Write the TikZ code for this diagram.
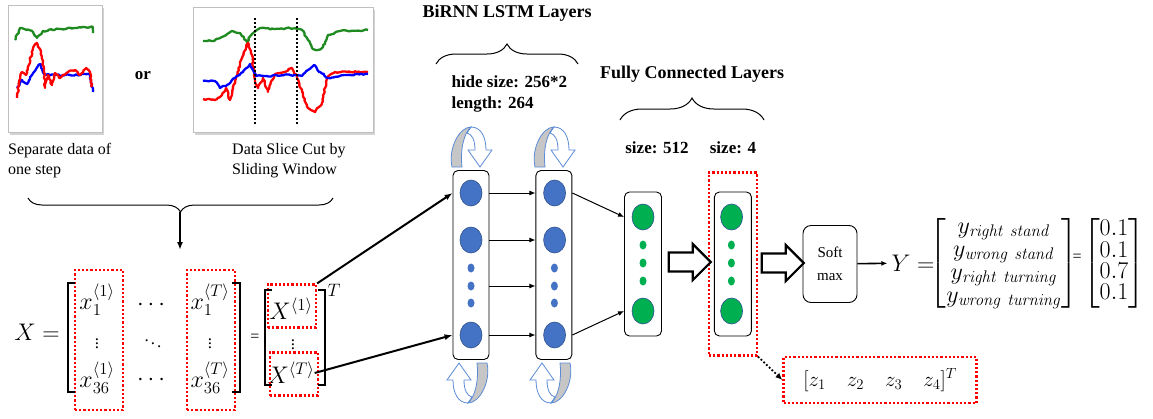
\RequirePackage{fix-cm}
\documentclass[tikz,border=0pt]{standalone}
\usepackage{amsmath}
\usepackage[no-math]{fontspec}
\setmainfont{Liberation Serif}
\usetikzlibrary{arrows.meta,positioning,shapes.geometric,shapes.arrows,shadows,fit,decorations.pathreplacing,decorations.pathmorphing}

\definecolor{nodeblue}{HTML}{4472C4}
\definecolor{edgeblue}{HTML}{2F528F}
\definecolor{nodegreen}{HTML}{00B050}
\definecolor{plotgreen}{HTML}{1F8A1F}
\definecolor{loopblue}{HTML}{5B8BD6}

\begin{document}
\begin{tikzpicture}[
    x=1pt,y=-1pt,
    every node/.style={font=\fontsize{16}{19}\selectfont},
    title/.style={font=\fontsize{18}{20}\selectfont\bfseries},
    lbl/.style={font=\fontsize{17}{20}\selectfont\bfseries},
    note/.style={font=\fontsize{16}{20}\selectfont,align=left,anchor=north west,inner sep=0pt},
    mathbig/.style={font=\fontsize{24}{28}\selectfont,inner sep=0pt},
    dotsm/.style={font=\fontsize{17}{18}\selectfont,inner sep=0pt},
    plotbox/.style={draw=gray!50,fill=white,drop shadow={opacity=0.35,shadow xshift=2pt,shadow yshift=-2pt}},
    trace/.style={line width=2.3pt,line join=round,decorate,decoration={random steps,segment length=2pt,amplitude=0.8pt}},
    window/.style={line width=2pt,dotted},
    brace/.style={decorate,decoration={brace,amplitude=#1},line width=1pt},
    brack/.style={line width=1.6pt},
    reddot/.style={draw=red,line width=2.2pt,dotted,inner sep=0pt},
    layer/.style={draw,rounded corners=5pt,minimum width=36pt,line width=0.9pt,inner sep=0pt},
    bignode/.style={ellipse,minimum width=22pt,minimum height=26pt,inner sep=0pt,draw=edgeblue,line width=0.6pt,fill=#1},
    dotnode/.style={ellipse,minimum width=7pt,minimum height=9pt,inner sep=0pt,fill=#1},
    hollow/.style={single arrow,draw,line width=2.2pt,fill=white,minimum height=42pt,minimum width=36pt,inner sep=7pt},
    smbox/.style={draw,rounded corners=8pt,minimum width=54pt,minimum height=77pt,align=center,line width=0.9pt,font=\fontsize{15}{23}\selectfont},
    arrow/.style={-{Latex[length=8pt,width=6pt]},line width=2pt},
    link/.style={-{Latex[length=6pt,width=5pt]},line width=1pt},
    dotarrow/.style={-{Latex[length=7pt,width=6pt]},line width=1.8pt,dotted},
    recur/.pic={
        \draw[draw=loopblue,line width=0.8pt,fill=white] (0,-20) .. controls (10,-20) and (15,-10) .. (15,3)
            -- (21,3) -- (9,20) -- (-3,3) -- (4,3) .. controls (4,-7) and (1,-13) .. (-4,-14) -- cycle;
        \draw[draw=loopblue,line width=0.8pt,fill=gray!45] (-19,20) .. controls (-23,2) and (-12,-20) .. (0,-20)
            .. controls (-7,-14) and (-11,2) .. (-9,20) -- cycle;
    }
]
\useasboundingbox (0,0) rectangle (1153,418);

% input data plots
\node[plotbox,minimum width=94pt,minimum height=127pt] (plotA) at (55,69) {};
\node[plotbox,minimum width=180pt,minimum height=125pt] (plotB) at (283,70) {};
\draw[trace,blue] (17,88) -- (22,80) -- (27,84) -- (34,72) -- (40,64) -- (44,74) -- (50,75) -- (70,75) -- (90,74) -- (93,92);
\draw[trace,plotgreen] (15,40) -- (20,28) -- (33,32) -- (37,38) -- (43,31) -- (60,29) -- (75,28) -- (93,27) -- (93,33);
\draw[trace,red] (17,98) -- (19,82) -- (22,72) -- (26,75) -- (30,60) -- (33,48) -- (37,43) -- (41,52) -- (44,70) -- (45,88)
    -- (48,75) -- (52,85) -- (55,73) -- (60,78) -- (68,72) -- (75,70) -- (80,75) -- (86,68) -- (90,72) -- (92,87);
\draw[trace,plotgreen] (203,41) -- (213,41) -- (222,37) -- (232,31) -- (240,33) -- (247,42) -- (252,34) -- (260,28) -- (275,29)
    -- (295,28) -- (302,30) -- (307,38) -- (312,48) -- (318,50) -- (323,47) -- (328,35) -- (340,31) -- (368,30);
\draw[trace,red] (203,99) -- (215,100) -- (222,95) -- (226,88) -- (230,100) -- (236,78) -- (242,58) -- (248,43) -- (252,55)
    -- (255,80) -- (258,88) -- (263,78) -- (268,92) -- (274,75) -- (284,72) -- (292,68) -- (297,78) -- (303,95) -- (308,108)
    -- (315,112) -- (322,103) -- (327,78) -- (335,72) -- (368,72);
\draw[trace,blue] (203,81) -- (215,81) -- (220,88) -- (227,85) -- (235,78) -- (243,72) -- (250,64) -- (256,76) -- (265,76)
    -- (290,75) -- (302,76) -- (308,70) -- (314,65) -- (320,72) -- (328,78) -- (345,75) -- (368,74);
\draw[window] (255,18) -- (255,125);
\draw[window] (297,18) -- (297,125);
\node[lbl] (or) at (143,76) {or};
\node[note] (capA) at (8,143) {Separate data of\\one step};
\node[note] (capB) at (232,143) {Data Slice Cut by\\Sliding Window};

% input matrix
\draw[brace=14pt] (333,198) -- (28,198);
\coordinate (tipX) at (180,212);
\coordinate (topX) at (180,250);
\draw[arrow] (tipX) -- (topX);
\node[mathbig] (Xeq) at (37,332) {$X =$};
\node[mathbig] (x11) at (97,300) {$x_1^{\langle 1\rangle}$};
\node[dotsm] (x21) at (97,341) {$\vdots$};
\node[mathbig] (x31) at (97,378) {$x_{36}^{\langle 1\rangle}$};
\node[mathbig] (x12) at (153,305) {$\cdots$};
\node[dotsm] (x22) at (153,341) {$\ddots$};
\node[mathbig] (x32) at (153,380) {$\cdots$};
\node[mathbig] (x13) at (210,300) {$x_1^{\langle T\rangle}$};
\node[dotsm] (x23) at (210,341) {$\vdots$};
\node[mathbig] (x33) at (210,378) {$x_{36}^{\langle T\rangle}$};
\node[reddot,minimum width=48pt,minimum height=140pt] (colX1) at (99,340) {};
\node[reddot,minimum width=48pt,minimum height=140pt] (colXT) at (211,340) {};
\draw[brack] (75,283) -| (68,392) -- (75,392);
\draw[brack] (232,283) -| (240,392) -- (232,392);
\node (eqX) at (255,338) {=};
\node[mathbig] (X1) at (291,309) {$X^{\langle 1\rangle}$};
\node[dotsm] (Xd) at (293,342) {$\vdots$};
\node[mathbig] (XT) at (291,373) {$X^{\langle T\rangle}$};
\node[reddot,minimum width=48pt,minimum height=43pt] (bx1) at (292,306) {};
\node[reddot,minimum width=48pt,minimum height=43pt] (bxT) at (294,374) {};
\draw[brack] (272,290) -| (265,385) -- (272,385);
\draw[brack] (318,290) -| (325,385) -- (318,385);
\node[font=\fontsize{18}{20}\selectfont] (supT) at (334,290) {$T$};

% BiRNN LSTM layers
\node[title] (birnn) at (507,13) {BiRNN LSTM Layers};
\draw[brace=20pt] (436,64) -- (578,64);
\node[lbl,anchor=west] (hide) at (448,82) {hide size: 256*2};
\node[lbl,anchor=west] (len) at (448,104) {length: 264};
\node[layer,minimum height=189pt] (colA) at (471,265) {};
\node[layer,minimum height=189pt,right=46pt of colA] (colB) {};
\node[bignode=nodeblue] (a1) at (471,193) {};
\node[bignode=nodeblue] (a2) at (471,240) {};
\node[dotnode=nodeblue] (da1) at (471,268) {};
\node[dotnode=nodeblue] (da2) at (471,286) {};
\node[dotnode=nodeblue] (da3) at (471,303) {};
\node[bignode=nodeblue] (a3) at (471,335) {};
\node[bignode=nodeblue,right=61pt of a1] (b1) {};
\node[bignode=nodeblue,right=61pt of a2] (b2) {};
\node[dotnode=nodeblue,right=76pt of da1] (db1) {};
\node[dotnode=nodeblue,right=76pt of da2] (db2) {};
\node[dotnode=nodeblue,right=76pt of da3] (db3) {};
\node[bignode=nodeblue,right=61pt of a3] (b3) {};
\pic at (471,147) {recur};
\pic at (554,147) {recur};
\pic[rotate=180] at (468,383) {recur};
\pic[rotate=180] at (551,383) {recur};
\draw[arrow] (bx1.north east) -- (a1 -| colA.west);
\draw[arrow] (XT.east) -- (a3 -| colA.west);
\draw[link] (a1 -| colA.east) -- (b1 -| colB.west);
\draw[link] (a2 -| colA.east) -- (b2 -| colB.west);
\draw[link] (da2 -| colA.east) -- (db2 -| colB.west);
\draw[link] (a3 -| colA.east) -- (b3 -| colB.west);

% fully connected layers
\node[title] (fcl) at (692,74) {Fully Connected Layers};
\draw[brace=22pt] (620,120) -- (764,120);
\node[lbl] (s512) at (657,148) {size: 512};
\node[lbl] (s4) at (733,148) {size: 4};
\node[layer,minimum width=37pt,minimum height=144pt] (fcA) at (643,264) {};
\node[layer,minimum width=37pt,minimum height=144pt,right=52pt of fcA] (fcB) {};
\node[bignode=nodegreen] (c1) at (643,217) {};
\node[dotnode=nodegreen] (dc1) at (643,245) {};
\node[dotnode=nodegreen] (dc2) at (643,263) {};
\node[dotnode=nodegreen] (dc3) at (643,281) {};
\node[bignode=nodegreen] (c2) at (643,311) {};
\node[bignode=nodegreen,right=66pt of c1] (e1) {};
\node[dotnode=nodegreen,right=81pt of dc1] (de1) {};
\node[dotnode=nodegreen,right=81pt of dc2] (de2) {};
\node[dotnode=nodegreen,right=81pt of dc3] (de3) {};
\node[bignode=nodegreen,right=66pt of c2] (e2) {};
\node[reddot,fit=(fcB),inner xsep=5pt,inner ysep=19pt] (outbox) {};
\draw[link] (b1 -| colB.east) -- (c1 -| fcA.west);
\draw[link] (b3 -| colB.east) -- (c2 -| fcA.west);
\node[hollow] (h1) at (685,262) {};
\node[hollow] (h2) at (778,263) {};

% softmax and output
\node[smbox] (soft) at (830,264) {Soft\\max};
\node[mathbig,inner sep=4pt] (Ylab) at (913,263) {$Y =$};
\draw[link,line width=1.6pt] (soft) -- (Ylab);
\node[font=\fontsize{24}{23}\selectfont,inner sep=0pt] (yvec) at (1004,263)
    {$\begin{bmatrix} y_{\mathit{right\ stand}}\\ y_{\mathit{wrong\ stand}}\\ y_{\mathit{right\ turning}}\\ y_{\mathit{wrong\ turning}} \end{bmatrix}$};
\node[inner sep=0pt] (eqY) at (1077,258) {=};
\node[font=\fontsize{24}{24}\selectfont,inner sep=0pt] (pvec) at (1114,263)
    {$\renewcommand{\arraystretch}{0.82}\begin{bmatrix}0.1\\0.1\\0.7\\0.1\end{bmatrix}$};
\node[reddot,minimum width=193pt,minimum height=46pt,font=\fontsize{21}{23}\selectfont] (zbox) at (880,380)
    {$[z_1\quad z_2\quad z_3\quad z_4]^T$};
\draw[dotarrow] (outbox.south east) -- (zbox.west);
\end{tikzpicture}
\end{document}
